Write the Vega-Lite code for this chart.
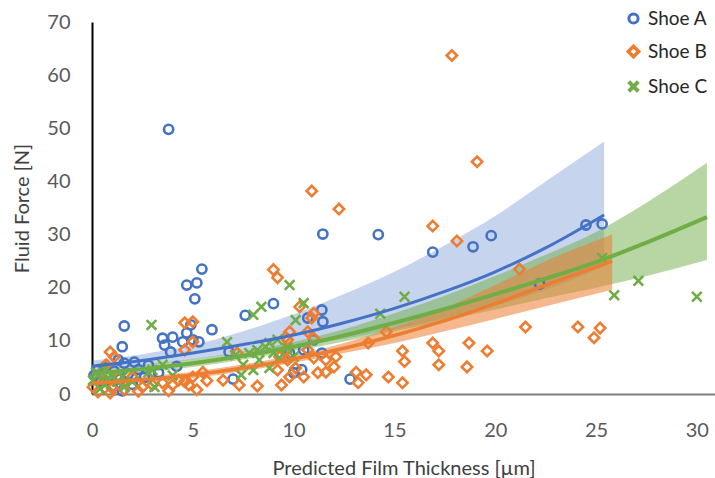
{
  "$schema": "https://vega.github.io/schema/vega-lite/v6.json",
  "width": 623,
  "height": 372,
  "autosize": {"type": "none"},
  "padding": {"left": 92, "top": 22, "right": 0, "bottom": 84},
  "background": "white",
  "config": {
    "view": {"stroke": null},
    "font": "Lato",
    "axis": {"labelFont": "Lato", "titleFont": "Lato", "labelColor": "#595959", "titleColor": "#404040", "labelFontSize": 20, "titleFontSize": 20, "titleFontWeight": "normal", "grid": false, "ticks": false, "labelFlush": false}
  },
  "datasets": {
    "pts": [
      {"shoe":"Shoe A","x":0.1,"y":3.5},{"shoe":"Shoe A","x":0.3,"y":4.6},{"shoe":"Shoe A","x":0.4,"y":2.4},{"shoe":"Shoe A","x":0.6,"y":5.0},{"shoe":"Shoe A","x":0.8,"y":3.2},{"shoe":"Shoe A","x":1.0,"y":1.5},{"shoe":"Shoe A","x":1.1,"y":4.3},{"shoe":"Shoe A","x":1.3,"y":6.4},{"shoe":"Shoe A","x":1.4,"y":2.8},{"shoe":"Shoe A","x":1.5,"y":0.6},{"shoe":"Shoe A","x":1.5,"y":8.9},{"shoe":"Shoe A","x":1.6,"y":12.8},{"shoe":"Shoe A","x":1.6,"y":5.8},{"shoe":"Shoe A","x":1.8,"y":3.8},{"shoe":"Shoe A","x":2.0,"y":1.8},{"shoe":"Shoe A","x":2.1,"y":6.0},{"shoe":"Shoe A","x":2.3,"y":4.6},{"shoe":"Shoe A","x":2.6,"y":3.1},{"shoe":"Shoe A","x":2.8,"y":5.4},{"shoe":"Shoe A","x":3.3,"y":4.0},{"shoe":"Shoe A","x":3.5,"y":10.5},{"shoe":"Shoe A","x":3.6,"y":9.2},{"shoe":"Shoe A","x":3.8,"y":49.8},{"shoe":"Shoe A","x":3.9,"y":7.9},{"shoe":"Shoe A","x":4.0,"y":10.7},{"shoe":"Shoe A","x":4.2,"y":5.2},{"shoe":"Shoe A","x":4.5,"y":9.8},{"shoe":"Shoe A","x":4.7,"y":11.5},{"shoe":"Shoe A","x":4.7,"y":20.5},{"shoe":"Shoe A","x":4.9,"y":13.0},{"shoe":"Shoe A","x":5.0,"y":10.2},{"shoe":"Shoe A","x":5.1,"y":17.9},{"shoe":"Shoe A","x":5.2,"y":20.9},{"shoe":"Shoe A","x":5.3,"y":9.8},{"shoe":"Shoe A","x":5.45,"y":23.5},{"shoe":"Shoe A","x":5.95,"y":12.1},{"shoe":"Shoe A","x":6.8,"y":7.9},{"shoe":"Shoe A","x":7.0,"y":2.8},{"shoe":"Shoe A","x":7.6,"y":14.8},{"shoe":"Shoe A","x":9.0,"y":17.0},{"shoe":"Shoe A","x":9.8,"y":7.7},{"shoe":"Shoe A","x":10.0,"y":4.0},{"shoe":"Shoe A","x":10.4,"y":4.6},{"shoe":"Shoe A","x":10.5,"y":8.3},{"shoe":"Shoe A","x":10.7,"y":14.3},{"shoe":"Shoe A","x":11.0,"y":10.2},{"shoe":"Shoe A","x":11.4,"y":15.8},{"shoe":"Shoe A","x":11.45,"y":13.6},{"shoe":"Shoe A","x":11.4,"y":7.7},{"shoe":"Shoe A","x":11.45,"y":30.1},{"shoe":"Shoe A","x":12.8,"y":2.8},{"shoe":"Shoe A","x":14.2,"y":30.0},{"shoe":"Shoe A","x":16.9,"y":26.7},{"shoe":"Shoe A","x":18.9,"y":27.7},{"shoe":"Shoe A","x":19.8,"y":29.8},{"shoe":"Shoe A","x":22.2,"y":20.7},{"shoe":"Shoe A","x":24.5,"y":31.8},{"shoe":"Shoe A","x":25.3,"y":32.0},
      {"shoe":"Shoe B","x":0.05,"y":1.3},{"shoe":"Shoe B","x":0.3,"y":0.4},{"shoe":"Shoe B","x":0.6,"y":2.5},{"shoe":"Shoe B","x":0.7,"y":5.5},{"shoe":"Shoe B","x":0.9,"y":7.9},{"shoe":"Shoe B","x":0.9,"y":0.2},{"shoe":"Shoe B","x":1.0,"y":1.1},{"shoe":"Shoe B","x":1.1,"y":7.0},{"shoe":"Shoe B","x":1.3,"y":3.0},{"shoe":"Shoe B","x":1.6,"y":0.8},{"shoe":"Shoe B","x":2.0,"y":3.2},{"shoe":"Shoe B","x":2.3,"y":0.5},{"shoe":"Shoe B","x":2.5,"y":1.3},{"shoe":"Shoe B","x":3.0,"y":1.7},{"shoe":"Shoe B","x":3.5,"y":2.1},{"shoe":"Shoe B","x":3.8,"y":0.6},{"shoe":"Shoe B","x":4.0,"y":1.7},{"shoe":"Shoe B","x":4.3,"y":2.6},{"shoe":"Shoe B","x":4.6,"y":2.3},{"shoe":"Shoe B","x":4.6,"y":8.3},{"shoe":"Shoe B","x":4.6,"y":13.4},{"shoe":"Shoe B","x":4.8,"y":1.7},{"shoe":"Shoe B","x":5.0,"y":3.2},{"shoe":"Shoe B","x":5.0,"y":13.6},{"shoe":"Shoe B","x":5.0,"y":9.8},{"shoe":"Shoe B","x":5.2,"y":0.8},{"shoe":"Shoe B","x":5.5,"y":4.1},{"shoe":"Shoe B","x":5.7,"y":2.5},{"shoe":"Shoe B","x":6.5,"y":2.6},{"shoe":"Shoe B","x":7.2,"y":7.7},{"shoe":"Shoe B","x":7.3,"y":1.7},{"shoe":"Shoe B","x":8.2,"y":1.5},{"shoe":"Shoe B","x":9.0,"y":23.4},{"shoe":"Shoe B","x":9.2,"y":21.9},{"shoe":"Shoe B","x":9.2,"y":4.5},{"shoe":"Shoe B","x":9.3,"y":7.0},{"shoe":"Shoe B","x":9.4,"y":1.7},{"shoe":"Shoe B","x":9.6,"y":8.3},{"shoe":"Shoe B","x":9.6,"y":10.7},{"shoe":"Shoe B","x":9.7,"y":6.4},{"shoe":"Shoe B","x":9.7,"y":10.2},{"shoe":"Shoe B","x":9.8,"y":3.2},{"shoe":"Shoe B","x":9.8,"y":11.7},{"shoe":"Shoe B","x":10.1,"y":4.9},{"shoe":"Shoe B","x":10.3,"y":16.4},{"shoe":"Shoe B","x":10.5,"y":3.2},{"shoe":"Shoe B","x":10.7,"y":11.7},{"shoe":"Shoe B","x":10.7,"y":8.3},{"shoe":"Shoe B","x":10.9,"y":38.2},{"shoe":"Shoe B","x":10.9,"y":14.3},{"shoe":"Shoe B","x":11.0,"y":15.2},{"shoe":"Shoe B","x":11.0,"y":10.5},{"shoe":"Shoe B","x":11.0,"y":6.8},{"shoe":"Shoe B","x":11.2,"y":4.0},{"shoe":"Shoe B","x":11.6,"y":6.4},{"shoe":"Shoe B","x":11.6,"y":4.1},{"shoe":"Shoe B","x":12.0,"y":5.1},{"shoe":"Shoe B","x":12.1,"y":7.0},{"shoe":"Shoe B","x":12.25,"y":34.8},{"shoe":"Shoe B","x":13.1,"y":4.1},{"shoe":"Shoe B","x":13.2,"y":2.1},{"shoe":"Shoe B","x":13.6,"y":3.6},{"shoe":"Shoe B","x":13.7,"y":9.6},{"shoe":"Shoe B","x":14.6,"y":11.7},{"shoe":"Shoe B","x":14.7,"y":3.2},{"shoe":"Shoe B","x":15.4,"y":8.1},{"shoe":"Shoe B","x":15.5,"y":6.1},{"shoe":"Shoe B","x":15.4,"y":2.1},{"shoe":"Shoe B","x":16.9,"y":31.6},{"shoe":"Shoe B","x":16.9,"y":9.6},{"shoe":"Shoe B","x":17.2,"y":8.1},{"shoe":"Shoe B","x":17.2,"y":5.5},{"shoe":"Shoe B","x":17.85,"y":63.7},{"shoe":"Shoe B","x":18.1,"y":28.8},{"shoe":"Shoe B","x":18.6,"y":5.1},{"shoe":"Shoe B","x":18.7,"y":9.6},{"shoe":"Shoe B","x":19.1,"y":43.7},{"shoe":"Shoe B","x":19.6,"y":8.1},{"shoe":"Shoe B","x":21.2,"y":23.5},{"shoe":"Shoe B","x":21.5,"y":12.6},{"shoe":"Shoe B","x":24.1,"y":12.6},{"shoe":"Shoe B","x":24.9,"y":10.6},{"shoe":"Shoe B","x":25.2,"y":12.4},
      {"shoe":"Shoe C","x":0.05,"y":2.6},{"shoe":"Shoe C","x":0.2,"y":4.0},{"shoe":"Shoe C","x":0.4,"y":1.0},{"shoe":"Shoe C","x":0.5,"y":2.6},{"shoe":"Shoe C","x":0.65,"y":4.9},{"shoe":"Shoe C","x":0.65,"y":1.7},{"shoe":"Shoe C","x":0.8,"y":3.0},{"shoe":"Shoe C","x":1.0,"y":3.6},{"shoe":"Shoe C","x":1.25,"y":2.3},{"shoe":"Shoe C","x":1.5,"y":3.2},{"shoe":"Shoe C","x":1.6,"y":1.3},{"shoe":"Shoe C","x":2.0,"y":2.3},{"shoe":"Shoe C","x":2.8,"y":4.1},{"shoe":"Shoe C","x":2.95,"y":13.0},{"shoe":"Shoe C","x":3.0,"y":4.5},{"shoe":"Shoe C","x":3.1,"y":1.3},{"shoe":"Shoe C","x":3.5,"y":5.5},{"shoe":"Shoe C","x":4.0,"y":3.5},{"shoe":"Shoe C","x":6.7,"y":9.8},{"shoe":"Shoe C","x":7.1,"y":7.3},{"shoe":"Shoe C","x":7.4,"y":3.6},{"shoe":"Shoe C","x":7.5,"y":5.5},{"shoe":"Shoe C","x":7.8,"y":7.7},{"shoe":"Shoe C","x":8.0,"y":14.9},{"shoe":"Shoe C","x":8.0,"y":4.5},{"shoe":"Shoe C","x":8.2,"y":8.3},{"shoe":"Shoe C","x":8.3,"y":6.4},{"shoe":"Shoe C","x":8.4,"y":16.4},{"shoe":"Shoe C","x":8.6,"y":8.9},{"shoe":"Shoe C","x":8.8,"y":9.6},{"shoe":"Shoe C","x":8.8,"y":4.9},{"shoe":"Shoe C","x":9.0,"y":7.7},{"shoe":"Shoe C","x":9.2,"y":10.2},{"shoe":"Shoe C","x":9.3,"y":6.8},{"shoe":"Shoe C","x":9.7,"y":8.7},{"shoe":"Shoe C","x":9.8,"y":20.5},{"shoe":"Shoe C","x":10.0,"y":7.0},{"shoe":"Shoe C","x":10.1,"y":13.9},{"shoe":"Shoe C","x":10.5,"y":17.1},{"shoe":"Shoe C","x":14.3,"y":15.1},{"shoe":"Shoe C","x":15.5,"y":18.3},{"shoe":"Shoe C","x":25.3,"y":25.6},{"shoe":"Shoe C","x":25.9,"y":18.6},{"shoe":"Shoe C","x":27.1,"y":21.3},{"shoe":"Shoe C","x":30.0,"y":18.3}
    ],
    "fit": [
      {"shoe":"Shoe A","x":0,"y":5.2,"lo":4.3,"hi":6.3},{"shoe":"Shoe A","x":2.5,"y":6.3,"lo":5.3,"hi":7.5},{"shoe":"Shoe A","x":5,"y":7.7,"lo":6.5,"hi":9.2},{"shoe":"Shoe A","x":7.5,"y":9.3,"lo":7.8,"hi":11.8},{"shoe":"Shoe A","x":10,"y":11.1,"lo":9.0,"hi":15.0},{"shoe":"Shoe A","x":12.5,"y":13.4,"lo":10.4,"hi":18.8},{"shoe":"Shoe A","x":15,"y":16.1,"lo":12.2,"hi":23.0},{"shoe":"Shoe A","x":17.5,"y":19.3,"lo":14.2,"hi":28.0},{"shoe":"Shoe A","x":20,"y":23.0,"lo":16.6,"hi":33.5},{"shoe":"Shoe A","x":22.5,"y":27.5,"lo":19.6,"hi":40.0},{"shoe":"Shoe A","x":25.4,"y":33.7,"lo":24.0,"hi":47.5},
      {"shoe":"Shoe B","x":0,"y":2.0,"lo":1.5,"hi":2.6},{"shoe":"Shoe B","x":2.5,"y":2.7,"lo":2.1,"hi":3.3},{"shoe":"Shoe B","x":5,"y":3.6,"lo":3.0,"hi":4.2},{"shoe":"Shoe B","x":7.5,"y":4.9,"lo":4.3,"hi":5.6},{"shoe":"Shoe B","x":10,"y":6.6,"lo":5.9,"hi":7.3},{"shoe":"Shoe B","x":12.5,"y":8.6,"lo":7.7,"hi":9.6},{"shoe":"Shoe B","x":15,"y":11.0,"lo":9.6,"hi":12.6},{"shoe":"Shoe B","x":17.5,"y":13.8,"lo":11.8,"hi":16.2},{"shoe":"Shoe B","x":20,"y":17.0,"lo":14.1,"hi":20.5},{"shoe":"Shoe B","x":22.5,"y":20.5,"lo":16.5,"hi":25.0},{"shoe":"Shoe B","x":25.8,"y":25.0,"lo":19.6,"hi":30.0},
      {"shoe":"Shoe C","x":0,"y":3.8,"lo":3.1,"hi":4.6},{"shoe":"Shoe C","x":2.5,"y":4.7,"lo":4.0,"hi":5.5},{"shoe":"Shoe C","x":5,"y":5.8,"lo":5.1,"hi":6.6},{"shoe":"Shoe C","x":7.5,"y":7.2,"lo":6.5,"hi":8.0},{"shoe":"Shoe C","x":10,"y":8.9,"lo":8.1,"hi":9.8},{"shoe":"Shoe C","x":12.5,"y":11.0,"lo":9.9,"hi":12.2},{"shoe":"Shoe C","x":15,"y":13.4,"lo":11.8,"hi":15.2},{"shoe":"Shoe C","x":17.5,"y":16.0,"lo":13.8,"hi":18.5},{"shoe":"Shoe C","x":20,"y":18.8,"lo":15.9,"hi":22.2},{"shoe":"Shoe C","x":22.5,"y":21.7,"lo":18.0,"hi":26.2},{"shoe":"Shoe C","x":25,"y":24.8,"lo":20.0,"hi":30.5},{"shoe":"Shoe C","x":27.5,"y":28.5,"lo":22.2,"hi":36.0},{"shoe":"Shoe C","x":30.5,"y":33.3,"lo":25.2,"hi":43.5}
    ]
  },
  "layer": [
    {
      "data": {"name": "fit"},
      "transform": [{"filter": "datum.shoe === 'Shoe A'"}],
      "mark": {"type": "area", "interpolate": "monotone", "color": "#4472C4", "opacity": 0.3},
      "encoding": {
        "x": {"field": "x", "type": "quantitative", "scale": {"domain": [0, 30.9], "nice": false, "zero": false},
              "axis": {"values": [0,5,10,15,20,25,30], "title": "Predicted Film Thickness [µm]", "domainColor": "#7f7f7f", "domainWidth": 2, "labelPadding": 26, "titlePadding": 18}},
        "y": {"field": "lo", "type": "quantitative", "scale": {"domain": [0, 70], "nice": false},
              "axis": {"values": [0,10,20,30,40,50,60,70], "title": "Fluid Force [N]", "domainColor": "#000000", "domainWidth": 2, "labelPadding": 22, "titlePadding": 14}},
        "y2": {"field": "hi"}
      }
    },
    {
      "data": {"name": "fit"},
      "transform": [{"filter": "datum.shoe === 'Shoe C'"}],
      "mark": {"type": "area", "interpolate": "monotone", "color": "#70AD47", "opacity": 0.5},
      "encoding": {"x": {"field": "x", "type": "quantitative"}, "y": {"field": "lo", "type": "quantitative"}, "y2": {"field": "hi"}}
    },
    {
      "data": {"name": "fit"},
      "transform": [{"filter": "datum.shoe === 'Shoe B'"}],
      "mark": {"type": "area", "interpolate": "monotone", "color": "#ED7D31", "opacity": 0.55},
      "encoding": {"x": {"field": "x", "type": "quantitative"}, "y": {"field": "lo", "type": "quantitative"}, "y2": {"field": "hi"}}
    },
    {
      "data": {"name": "pts"},
      "mark": {"type": "point", "filled": false, "strokeWidth": 2.6, "opacity": 1},
      "encoding": {
        "x": {"field": "x", "type": "quantitative"},
        "y": {"field": "y", "type": "quantitative"},
        "color": {"field": "shoe", "type": "nominal",
                  "scale": {"domain": ["Shoe A","Shoe B","Shoe C"], "range": ["#4472C4","#ED7D31","#70AD47"]},
                  "legend": {"title": null, "orient": "none", "legendX": 532, "legendY": -13, "labelFontSize": 19, "labelColor": "#262626", "labelFont": "Lato", "rowPadding": 9, "symbolStrokeWidth": 2.6, "symbolSize": 100, "labelOffset": 5}},
        "shape": {"field": "shoe", "type": "nominal",
                  "scale": {"domain": ["Shoe A","Shoe B","Shoe C"], "range": ["circle","diamond","M-0.85,-0.85L0.85,0.85M0.85,-0.85L-0.85,0.85"]}},
        "size": {"field": "shoe", "type": "nominal", "scale": {"domain": ["Shoe A","Shoe B","Shoe C"], "range": [85, 130, 150]}, "legend": null}
      }
    },
    {
      "data": {"name": "fit"},
      "mark": {"type": "line", "interpolate": "monotone"},
      "encoding": {
        "x": {"field": "x", "type": "quantitative"},
        "y": {"field": "y", "type": "quantitative"},
        "color": {"field": "shoe", "type": "nominal", "legend": null},
        "strokeWidth": {"field": "shoe", "type": "nominal", "scale": {"domain": ["Shoe A","Shoe B","Shoe C"], "range": [3, 4, 3.5]}, "legend": null}
      }
    }
  ]
}
